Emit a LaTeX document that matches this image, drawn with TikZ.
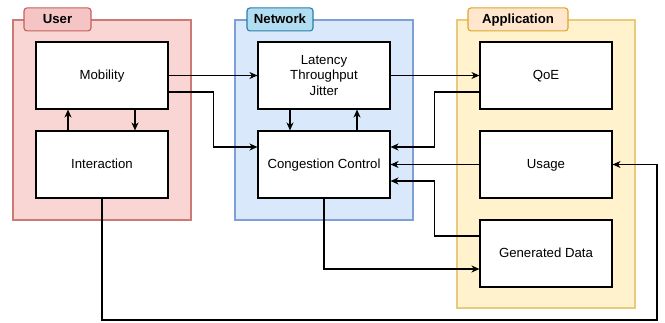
\documentclass[tikz,border=0pt]{standalone}
\usepackage{fontspec}
\setmainfont{Liberation Sans}
\usepackage{tikz}
\usetikzlibrary{positioning,calc,arrows.meta}
\definecolor{userfill}{RGB}{249, 214, 211}
\definecolor{userline}{RGB}{205, 122, 118}
\definecolor{usertab}{RGB}{245, 196, 196}
\definecolor{usertabline}{RGB}{196, 96, 92}
\definecolor{netfill}{RGB}{218, 232, 252}
\definecolor{netline}{RGB}{126, 160, 214}
\definecolor{nettab}{RGB}{177, 221, 240}
\definecolor{nettabline}{RGB}{40, 128, 172}
\definecolor{appfill}{RGB}{255, 242, 204}
\definecolor{appline}{RGB}{232, 202, 122}
\definecolor{apptab}{RGB}{255, 230, 204}
\definecolor{apptabline}{RGB}{222, 166, 40}

\begin{document}
\begin{tikzpicture}[x=1pt,y=1pt,
        font=\fontsize{13.2}{15.8}\selectfont,
        midtext/.style={text height=0.72em,text depth=0pt},
        group/.style={draw,line width=1.1pt,minimum width=178pt,minimum height=200pt,inner sep=0pt},
        tab/.style={draw,line width=1.1pt,rounded corners=3pt,minimum height=23pt,inner sep=0pt,anchor=west,midtext,font=\fontsize{13.2}{15.8}\selectfont\bfseries},
        block/.style={draw,fill=white,line width=1.1pt,minimum width=132pt,minimum height=67pt,inner sep=0pt,align=center},
        link/.style={line width=1.1pt,-{Stealth[length=8pt,width=7pt,inset=2.5pt]}},
        wire/.style={line width=1.1pt}]
        \useasboundingbox[fill=white] (0,0) rectangle (665,-323);

        % Groups
        \node[group,fill=userfill,draw=userline] (user) at (102,-120) {};
        \node[group,fill=netfill,draw=netline] (network) at (324,-120) {};
        \node[group,fill=appfill,draw=appline,minimum height=288pt] (app) at (546,-164) {};

        \node[tab,fill=usertab,draw=usertabline,minimum width=67pt] (usertitle) at ($(user.north west)+(11,0)$) {User};
        \node[tab,fill=nettab,draw=nettabline,minimum width=66pt] (nettitle) at ($(network.north west)+(12,0)$) {Network};
        \node[tab,fill=apptab,draw=apptabline,minimum width=100pt] (apptitle) at ($(app.north west)+(11,0)$) {Application};

        % Blocks
        \node[block,midtext] (mobility) at (102,-75.5) {Mobility};
        \node[block,midtext] (interaction) at (102,-164.5) {Interaction};
        \node[block] (metrics) at (324,-75.5) {Latency\\Throughput\\Jitter};
        \node[block,midtext] (congestion) at (324,-164.5) {Congestion Control};
        \node[block,midtext] (qoe) at (546,-75.5) {QoE};
        \node[block,midtext] (usage) at (546,-164.5) {Usage};
        \node[block,midtext] (gendata) at (546,-253.5) {Generated Data};

        \coordinate (loop) at (657,-320);

        % Links
        \draw[link] ([xshift=-34pt]interaction.north) -- ([xshift=-34pt]mobility.south);
        \draw[link] ([xshift=33pt]mobility.south) -- ([xshift=33pt]interaction.north);
        \draw[link] ([xshift=-34pt]metrics.south) -- ([xshift=-34pt]congestion.north);
        \draw[link] ([xshift=33pt]congestion.north) -- ([xshift=33pt]metrics.south);

        \draw[link] (mobility.east) -- (metrics.west);
        \draw[link] ([yshift=-16.5pt]mobility.east) -- ++(45,0) |- ([yshift=17.5pt]congestion.west);
        \draw[link] (metrics.east) -- (qoe.west);

        \draw[link] ([yshift=-16.5pt]qoe.west) -- ++(-45,0) |- ([yshift=17.5pt]congestion.east);
        \draw[link] (usage.west) -- (congestion.east);
        \draw[link] ([yshift=17.5pt]gendata.west) -- ++(-45,0) |- ([yshift=-16.5pt]congestion.east);
        \draw[link] (congestion.south) |- ([yshift=-15.5pt]gendata.west);

        \draw[link] (interaction.south) |- (loop) |- (usage.east);
    \end{tikzpicture}
\end{document}
